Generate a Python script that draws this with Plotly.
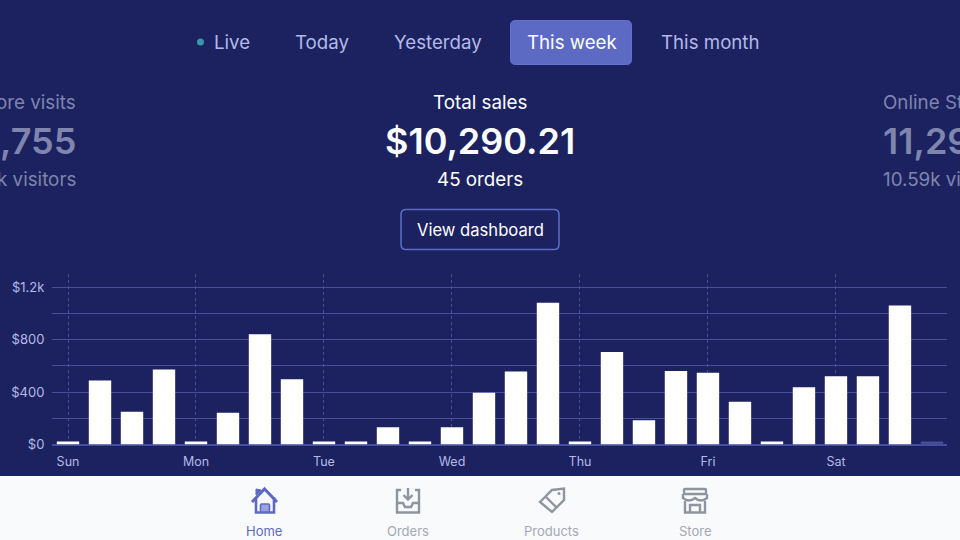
import plotly.graph_objects as go

#%%Data
bar_pos = list(range(28))
sales = [23, 488, 249, 571, 23, 241, 841, 498, 23, 23, 132, 23, 132, 394,
         556, 1080, 23, 704, 185, 561, 546, 325, 23, 437, 521, 521, 1059, 23]
day_pos = [0, 4, 8, 12, 16, 20, 24]
day_labels = ['Sun', 'Mon', 'Tue', 'Wed', 'Thu', 'Fri', 'Sat']
y_ticks = [0, 200, 400, 600, 800, 1000, 1200]
y_labels = ['$0', ' ', '$400', ' ', '$800', ' ', '$1.2k']
tabs = ['Live', 'Today', 'Yesterday', 'This week', 'This month']
nav_items = ['Home', 'Orders', 'Products', 'Store']

#%%Colours
BG = '#1c2260'
GRID = '#474e9f'
INDIGO = '#5c6ac4'
SOFT = '#b3b9e6'
GREY = '#8f959f'
W, H = 960, 540


def fx(x):
    return x / W


def fy(y):
    return 1 - y / H


def path(cmds):
    # cmds is a list of (letter, x, y, ...) in screen pixels
    out = []
    for c in cmds:
        if c[0] == 'Z':
            out.append('Z')
            continue
        nums = c[1:]
        bits = [f'{fx(nums[i]):.5f},{fy(nums[i + 1]):.5f}' for i in range(0, len(nums), 2)]
        out.append(c[0] + ' ' + ' '.join(bits))
    return ' '.join(out)


def round_rect(x0, y0, x1, y1, r):
    return path([('M', x0 + r, y0), ('L', x1 - r, y0), ('Q', x1, y0, x1, y0 + r),
                 ('L', x1, y1 - r), ('Q', x1, y1, x1 - r, y1),
                 ('L', x0 + r, y1), ('Q', x0, y1, x0, y1 - r),
                 ('L', x0, y0 + r), ('Q', x0, y0, x0 + r, y0), ('Z',)])


def shape(d, line=None, fill=None, width=2.4):
    return dict(type='path', xref='paper', yref='paper', path=d, layer='above',
                fillcolor=fill if fill else 'rgba(0,0,0,0)',
                line=dict(color=line if line else 'rgba(0,0,0,0)', width=width))


def text(x, y, s, size, color, anchor='center', weight=400):
    return dict(x=fx(x), y=fy(y), xref='paper', yref='paper', text=s, showarrow=False,
                xanchor=anchor, yanchor='middle',
                font=dict(family='Inter', size=size, color=color, weight=weight))


#%%Chart
fig = go.Figure(data=[go.Bar(x=bar_pos, y=sales, width=0.7,
                             marker=dict(color=['#ffffff'] * 27 + ['#474e8f'], line_width=0))])

#%%Panels and buttons
shapes = [
    dict(type='rect', xref='paper', yref='paper', x0=0, x1=1, y0=0, y1=fy(476),
         fillcolor='#f9fafc', line_width=0, layer='above'),
    shape(round_rect(510.5, 20.5, 631.5, 64.5, 5), line='#6673cf', fill=INDIGO, width=1),
    shape(round_rect(401, 209.5, 559, 249.5, 5), line=INDIGO, width=1.6),
    dict(type='circle', xref='paper', yref='paper', x0=fx(197), x1=fx(204), y0=fy(45.5), y1=fy(38.5),
         fillcolor='#3a96a8', line_width=0, layer='above'),
]

# home icon
shapes.append(shape(path([('M', 252, 502), ('L', 264.5, 489), ('L', 277, 502)]), line=INDIGO, width=3))
shapes.append(shape(path([('M', 256, 497), ('L', 256, 512.5), ('L', 274, 512.5), ('L', 274, 497)]), line=INDIGO, width=2.6))
shapes.append(shape(path([('M', 256, 489), ('L', 256, 495), ('L', 261, 490), ('Z',)]), fill=INDIGO, line=INDIGO, width=1))
shapes.append(shape(round_rect(260.5, 504, 269.5, 512, 1), fill='#9aa3e0', line=INDIGO, width=1.6))
# orders icon
shapes.append(shape(path([('M', 401, 490), ('L', 397, 490), ('L', 397, 512.5), ('L', 419, 512.5), ('L', 419, 490), ('L', 415, 490)]), line=GREY))
shapes.append(shape(path([('M', 397, 503), ('L', 403, 503), ('L', 405, 507), ('L', 411, 507), ('L', 413, 503), ('L', 419, 503)]), line=GREY))
shapes.append(shape(path([('M', 408, 488), ('L', 408, 499), ('M', 403.5, 495), ('L', 408, 499.5), ('L', 412.5, 495)]), line=GREY))
# products icon
shapes.append(shape(path([('M', 540, 502), ('L', 552, 490), ('L', 564, 488.5), ('L', 564, 500), ('L', 552, 512), ('Z',)]), line=GREY))
shapes.append(shape(path([('M', 546, 497), ('L', 557, 508)]), line=GREY))
shapes.append(dict(type='circle', xref='paper', yref='paper', x0=fx(557.5), x1=fx(560.5), y0=fy(495), y1=fy(492),
                   fillcolor=GREY, line_width=0, layer='above'))
# store icon
shapes.append(shape(round_rect(684, 489, 706, 494, 1), line=GREY))
shapes.append(shape(path([('M', 683, 494), ('L', 683, 498), ('Q', 689, 503, 695, 498), ('Q', 701, 503, 707, 498), ('L', 707, 494)]), line=GREY))
shapes.append(shape(path([('M', 685, 501), ('L', 685, 512.5), ('L', 705, 512.5), ('L', 705, 501)]), line=GREY))
shapes.append(shape(path([('M', 690, 512.5), ('L', 690, 505), ('L', 700, 505), ('L', 700, 512.5)]), line=GREY))

#%%Texts
tab_x = [212, 293, 392, 525, 659]
annotations = []
for t, x in zip(tabs, tab_x):
    annotations.append(text(x, 43, t, 18.7, '#ffffff' if t == 'This week' else SOFT, 'left'))

annotations += [
    text(480, 102, 'Total sales', 18.8, '#ffffff'),
    text(480, 141, '$10,290.21', 36, '#ffffff', weight=600),
    text(480, 180, '45 orders', 18.8, '#ffffff'),
    text(480, 230, 'View dashboard', 16.6, '#ffffff'),
    text(78, 102, 'ore visits', 18.8, '#7f85ad', 'right'),
    text(78, 141, ',755', 36, '#7f85ad', 'right', 600),
    text(78, 180, 'k visitors', 18.8, '#7f85ad', 'right'),
    text(881, 102, 'Online St', 18.8, '#7f85ad', 'left'),
    text(881, 141, '11,29', 36, '#7f85ad', 'left', 600),
    text(881, 180, '10.59k vi', 18.8, '#7f85ad', 'left'),
]
nav_x = [264, 408, 551, 695]
for t, x in zip(nav_items, nav_x):
    annotations.append(text(x, 531, t, 13, INDIGO if t == 'Home' else '#a3a8b3'))

#%%Layout
fig.update_layout(
    width=W, height=H, margin=dict(l=0, r=0, t=0, b=0, pad=0, autoexpand=False),
    paper_bgcolor=BG, plot_bgcolor=BG, showlegend=False, bargap=0.3,
    font=dict(family='Inter', color=SOFT),
    shapes=shapes, annotations=annotations,
    xaxis=dict(domain=[fx(52), fx(947)], range=[-0.5, 27.47], automargin=False,
               tickmode='array', tickvals=day_pos, ticktext=day_labels,
               tickfont=dict(size=12.5, color=SOFT),
               showgrid=True, gridcolor=GRID, griddash='dot', gridwidth=1,
               ticks='outside', ticklen=5, tickcolor=BG, zeroline=False, showline=False),
    yaxis=dict(domain=[fy(444.5), fy(273.5)], range=[0, 1303], automargin=False,
               tickmode='array', tickvals=y_ticks, ticktext=y_labels,
               tickfont=dict(size=13, color=SOFT),
               showgrid=True, gridcolor=GRID, gridwidth=1.2,
               ticks='outside', ticklen=4, tickcolor=BG, zeroline=True, zerolinecolor=GRID,
               zerolinewidth=1.5, showline=False),
)

# page body has a default margin, drop it so the chart sits at 0,0
fig.write_html("out.html", config={'displayModeBar': False},
               post_script="document.body.style.margin='0';")
